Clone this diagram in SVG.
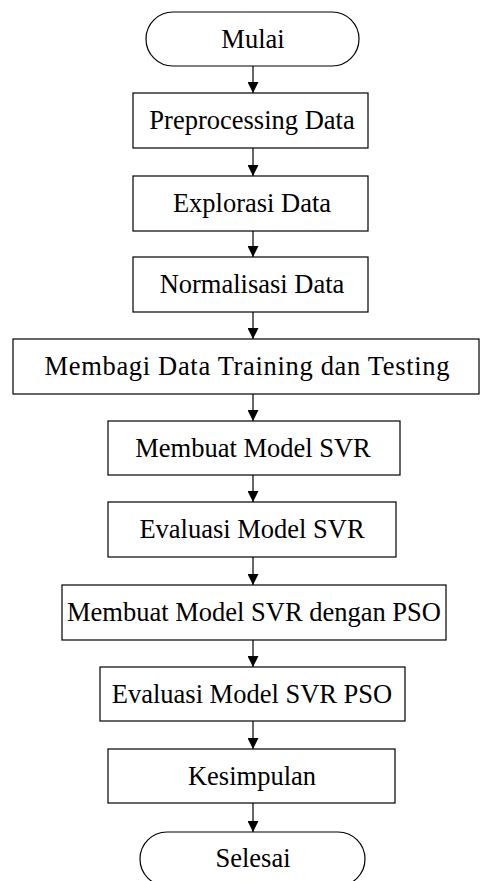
<svg xmlns="http://www.w3.org/2000/svg" width="482" height="881" viewBox="0 0 482 881">
<style>
.b{fill:#fff;stroke:#000;stroke-width:1.2}
.t{font-family:"Liberation Serif","Times New Roman",serif;font-size:26.5px;fill:#000;text-anchor:middle}
.c{stroke:#000;stroke-width:1.2;fill:none;marker-end:url(#ah)}
</style>
<defs>
<marker id="ah" viewBox="0 0 10 10" refX="10" refY="5" markerWidth="11" markerHeight="11" markerUnits="userSpaceOnUse" orient="auto">
<path d="M0,0 L10,5 L0,10 z" fill="#000"/>
</marker>
</defs>
<rect width="482" height="881" fill="#fff"/>
<g id="connectors">
<line class="c" x1="253" y1="66" x2="253" y2="93"/>
<line class="c" x1="253" y1="148" x2="253" y2="176"/>
<line class="c" x1="253" y1="231" x2="253" y2="257"/>
<line class="c" x1="253" y1="312" x2="253" y2="339"/>
<line class="c" x1="253" y1="394" x2="253" y2="421"/>
<line class="c" x1="253" y1="475" x2="253" y2="502"/>
<line class="c" x1="253" y1="557" x2="253" y2="585"/>
<line class="c" x1="253" y1="640" x2="253" y2="667"/>
<line class="c" x1="253" y1="721" x2="253" y2="749"/>
<line class="c" x1="253" y1="803" x2="253" y2="832"/>
</g>
<g id="mulai">
<rect class="b" x="146" y="12" width="213" height="54" rx="27" ry="27"/>
<text class="t" x="253" y="48">Mulai</text>
</g>
<g id="preprocessing">
<rect class="b" x="133" y="93" width="235" height="55"/>
<text class="t" x="252" y="129">Preprocessing Data</text>
</g>
<g id="explorasi">
<rect class="b" x="133" y="176" width="235" height="55"/>
<text class="t" x="252" y="212">Explorasi Data</text>
</g>
<g id="normalisasi">
<rect class="b" x="133" y="257" width="235" height="55"/>
<text class="t" x="252" y="293">Normalisasi Data</text>
</g>
<g id="membagi">
<rect class="b" x="13" y="339" width="466" height="55"/>
<text class="t" x="247" y="375" textLength="405" lengthAdjust="spacing">Membagi Data Training dan Testing</text>
</g>
<g id="membuat-svr">
<rect class="b" x="108" y="421" width="292" height="54"/>
<text class="t" x="253" y="457">Membuat Model SVR</text>
</g>
<g id="evaluasi-svr">
<rect class="b" x="108" y="502" width="288" height="55"/>
<text class="t" x="252" y="538">Evaluasi Model SVR</text>
</g>
<g id="membuat-svr-pso">
<rect class="b" x="62" y="585" width="384" height="55"/>
<text class="t" x="254" y="621">Membuat Model SVR dengan PSO</text>
</g>
<g id="evaluasi-svr-pso">
<rect class="b" x="100" y="667" width="305" height="54"/>
<text class="t" x="252" y="703">Evaluasi Model SVR PSO</text>
</g>
<g id="kesimpulan">
<rect class="b" x="108" y="749" width="287" height="54"/>
<text class="t" x="252" y="785">Kesimpulan</text>
</g>
<g id="selesai">
<rect class="b" x="140" y="832" width="225" height="54" rx="27" ry="27"/>
<text class="t" x="253" y="867">Selesai</text>
</g>
</svg>
